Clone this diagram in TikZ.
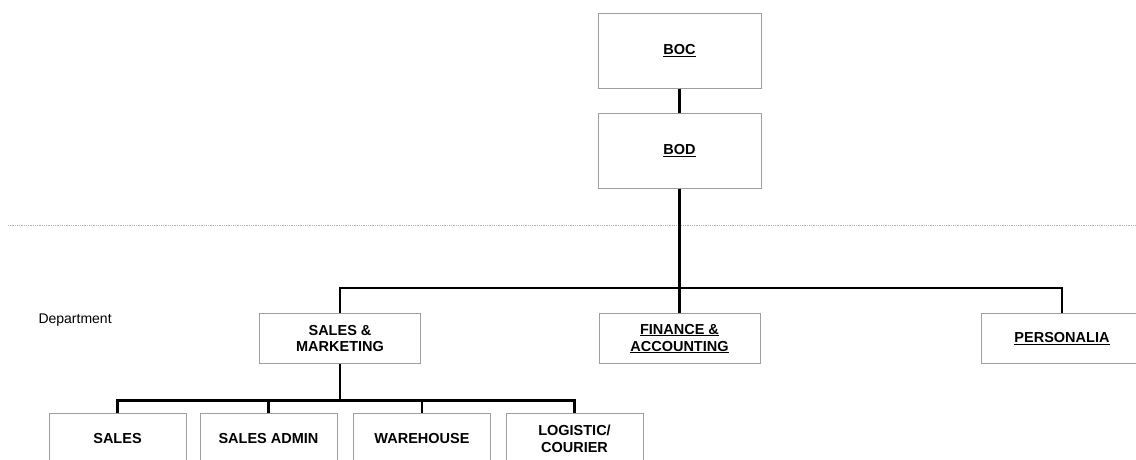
\documentclass[tikz,border=0pt]{standalone}
\usepackage{fontspec}
\setmainfont{Liberation Sans}
\tikzset{
    unitbox/.style={draw=gray!75, line width=1pt, fill=white, align=center,
        font=\fontsize{14.5}{17}\selectfont\bfseries, inner sep=2pt},
    topbox/.style={unitbox, minimum width=163pt, minimum height=75pt},
    deptbox/.style={unitbox, minimum width=161pt, minimum height=50pt},
    subbox/.style={unitbox, minimum width=137pt, minimum height=50pt},
    conn/.style={line width=2.2pt, black}
}
\begin{document}
\begin{tikzpicture}[x=1pt, y=-1pt]
    \useasboundingbox (0,0) rectangle (1136,459);
    % Draw the board boxes
    \node[topbox] (boc) at (679.5,50.5) {\underline{BOC}};
    \node[topbox] (bod) at (679.5,150.5) {\underline{BOD}};
    % Separator line
    \draw[gray!60, densely dotted, line width=0.8pt] (8,225) -- (1136,225);
    % Draw the departments
    \node[font=\fontsize{14}{17}\selectfont, anchor=west] (deptlabel) at (35,320) {Department};
    \node[deptbox] (smk) at (340,338.5) {SALES \&\\MARKETING};
    \node[deptbox] (fin) at (679.5,338.5) {\underline{FINANCE \&}\\\underline{ACCOUNTING}};
    \node[deptbox] (pers) at (1062,338.5) {\underline{PERSONALIA}};
    % Draw the sections under sales & marketing
    \foreach \name/\x/\txt in {sales/117.5/SALES, admin/268.5/SALES ADMIN,
            wh/422/WAREHOUSE, logi/574.5/{LOGISTIC/\\COURIER}} {
            \node[subbox] (\name) at (\x,438.5) {\txt};
        }
    % Draw the edges
    \draw[conn] (boc.south) -- (bod.north);
    \draw[conn] (bod.south) -- (fin.north);
    \draw[conn] (smk.north) -- ++(0,-25) -| (pers.north);
    \draw[conn] (smk.south) -- ++(0,37);
    \draw[conn] (sales.north) -- ++(0,-12.5) -| (logi.north);
    \foreach \name in {admin,wh} {
            \draw[conn] (\name.north) -- ++(0,-12.5);
        }
\end{tikzpicture}
\end{document}
